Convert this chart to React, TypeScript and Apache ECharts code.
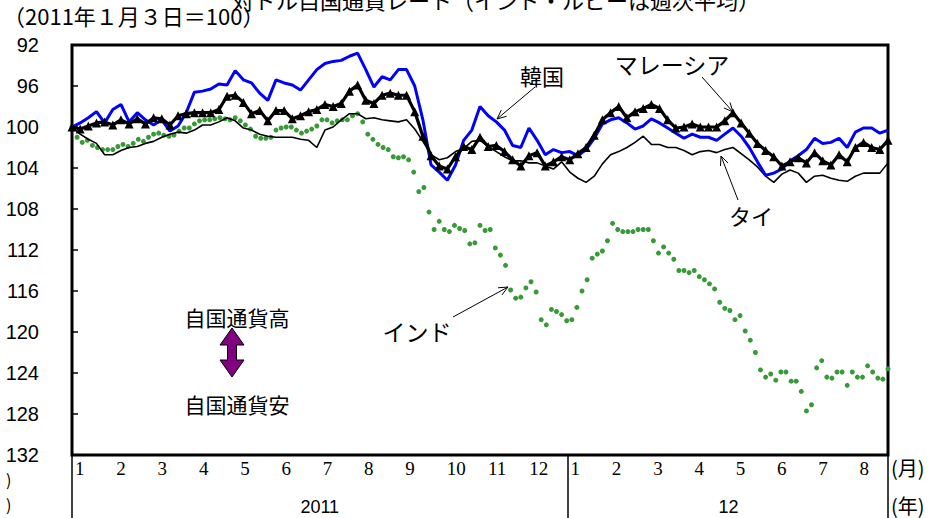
import React, { useEffect, useRef } from "react";
import * as echarts from "echarts";

// ---- data -------------------------------------------------------------
// x is measured in months from 2011-01-01; the last observation is late Aug 2012
const X_END = 19.76;
const MONTH_TICKS = [0, 1, 2, 3, 4, 5, 6, 7, 8, 9, 10, 11, 12, 13, 14, 15, 16, 17, 18, 19];
const MONTH_LABELS = ["1", "2", "3", "4", "5", "6", "7", "8", "9", "10", "11", "12", "1", "2", "3", "4", "5", "6", "7", "8"];
const YEAR_SEPARATORS = [0, 12, X_END];
const YEAR_POS = [6, 15.9];
const YEAR_LABELS = ["2011", "12"];

const Y_MIN = 92;
const Y_MAX = 132;
const Y_STEP = 4;

const korea = [
  100, 99.6, 99.1, 98.5, 99.6, 98.3, 97.8, 99.5, 98.6, 99.3,
  99.8, 99.3, 100.4, 99.9, 98.6, 96.6, 96.5, 96.3, 95.8, 95.9,
  94.5, 95.4, 95.7, 96.7, 97.4, 95.4, 95.7, 95.9, 96.4, 95.4,
  94.4, 93.8, 93.6, 93.5, 93.1, 92.8, 94.4, 96.1, 95.1, 95.4,
  94.4, 94.4, 96.0, 99.3, 103.7, 104.4, 105.2, 103.7, 101.3, 100.3,
  98.0, 98.9, 99.5, 100.3, 101.8, 102.0, 100.1, 101.3, 102.7, 102.2,
  102.5, 102.4, 102.8, 102.2, 101.1, 99.7, 99.3, 99.1, 99.6, 100.2,
  99.9, 99.2, 99.6, 100.1, 100.6, 101.1, 100.7, 101.0, 101.0, 101.3,
  100.7, 100.1, 100.9, 102.0, 103.4, 104.7, 104.5, 104.1, 103.3, 102.8,
  102.2, 101.1, 101.6, 101.5, 101.1, 102.0, 100.5, 100.1, 100.1, 100.6,
  100.3,
];

const malaysia = [
  100, 100.2, 99.9, 99.6, 99.5, 99.8, 99.3, 99.7, 99.2, 99.7,
  99.1, 99.2, 99.8, 98.9, 98.7, 98.6, 98.6, 98.6, 98.3, 97.0,
  96.9, 97.6, 98.7, 98.4, 99.4, 98.4, 98.4, 99.2, 98.9, 98.5,
  98.3, 97.8, 98.0, 97.7, 96.5, 95.9, 97.4, 97.7, 96.9, 96.7,
  96.9, 96.9, 98.5, 100.9, 102.8, 103.8, 104.1, 102.9, 101.9, 102.2,
  101.0, 101.9, 101.8, 102.4, 103.2, 103.8, 102.8, 102.5, 103.8, 103.4,
  102.9, 103.2, 102.6, 102.0, 100.8, 99.3, 98.6, 98.0, 99.1, 98.5,
  98.2, 97.8, 98.2, 99.3, 100.1, 100.0, 99.7, 100.0, 100.0, 100.0,
  99.4, 98.6, 99.6, 100.6, 101.6, 102.3, 102.9, 103.8, 103.4, 103.0,
  103.5, 102.5, 103.3, 103.7, 102.7, 103.4, 102.0, 101.5, 102.0, 102.2,
  101.3,
];

const thailand = [
  100, 100.7, 101.2, 101.6, 102.7, 102.7, 102.3, 102.0, 101.9, 101.6,
  101.4, 101.0, 100.7, 100.5, 100.6, 100.3, 99.8, 99.8, 99.5, 99.1,
  99.4, 100.1, 100.3, 100.7, 100.9, 101.0, 101.0, 101.0, 101.2, 101.3,
  102.0, 100.3, 100.0, 99.3, 98.7, 98.7, 99.2, 99.1, 99.3, 99.4,
  99.5, 99.3, 100.2, 101.4, 102.7, 103.2, 103.0, 102.4, 102.1, 101.4,
  101.3, 101.9, 102.4, 102.9, 103.3, 103.3, 103.5, 103.5, 103.8, 104.1,
  103.4, 104.4, 105.0, 105.4, 104.8, 103.6, 102.7, 102.4, 102.0, 101.5,
  100.9, 101.7, 101.7, 102.0, 102.0, 102.3, 102.7, 102.4, 102.3, 102.5,
  102.2, 102.0, 102.6, 103.2, 103.9, 104.8, 105.4, 104.6, 104.2, 104.5,
  105.4, 104.8, 104.7, 105.0, 105.2, 105.3, 104.8, 104.5, 104.5, 104.5,
  103.5,
];

const india = [
  100.0, 101.0, 101.5, 101.3, 101.8, 102.0, 102.2, 102.2, 102.2, 101.9,
  101.7, 101.9, 101.6, 101.2, 101.4, 101.0, 100.7, 100.6, 100.8, 100.9,
  100.8, 100.4, 100.1, 100.1, 99.7, 99.4, 99.3, 99.3, 99.2, 99.1,
  99.2, 99.3, 99.1, 99.4, 99.8, 100.2, 100.9, 101.1, 101.1, 101.0,
  100.3, 100.1, 100.0, 100.0, 100.3, 100.6, 100.4, 100.2, 99.9, 99.3,
  99.3, 99.6, 99.4, 99.3, 99.3, 98.9, 98.7, 99.5, 100.7, 101.2,
  101.7, 102.0, 102.2, 102.9, 103.0, 102.9, 103.2, 104.4, 106.3, 105.9,
  108.3, 110.0, 109.2, 110.0, 110.2, 109.6, 109.9, 110.1, 111.4, 111.3,
  109.6, 110.1, 110.0, 111.8, 112.5, 113.5, 115.9, 116.7, 116.6, 115.7,
  115.1, 116.1, 118.8, 119.3, 117.8, 118.0, 118.3, 118.9, 118.8, 117.6,
  116.0, 114.9, 112.8, 112.4, 112.1, 111.1, 109.4, 110.0, 110.2, 110.2,
  110.2, 110.0, 110.0, 110.0, 111.1, 112.3, 111.7, 112.3, 112.9, 114.0,
  114.0, 114.2, 114.0, 114.6, 114.9, 115.3, 115.8, 117.1, 117.7, 117.9,
  118.8, 118.4, 119.9, 120.8, 122.0, 123.7, 124.4, 124.1, 124.7, 123.9,
  123.9, 124.8, 124.8, 125.8, 127.7, 127.1, 123.5, 122.8, 124.4, 124.5,
  123.9, 123.9, 125.2, 123.9, 124.4, 124.4, 123.3, 123.9, 124.5, 124.6,
  123.6,
];

const TITLE = "対ドル自国通貨レート（インド・ルピーは週次平均）";
const SUBTITLE = "（2011年１月３日＝100）";

// ---- helpers ----------------------------------------------------------
const CJK = '"Noto Sans CJK JP", "Noto Sans", sans-serif';

function toPairs(arr: number[]) {
  const n = arr.length;
  return arr.map((v, i) => [(i * X_END) / (n - 1), v]);
}

function arrow(x1: number, y1: number, x2: number, y2: number, head = 10) {
  const a = Math.atan2(y2 - y1, x2 - x1);
  const s = 0.42;
  const p1 = [x2 - head * Math.cos(a - s), y2 - head * Math.sin(a - s)];
  const p2 = [x2 - head * Math.cos(a + s), y2 - head * Math.sin(a + s)];
  return [
    { type: "line", shape: { x1, y1, x2, y2 }, style: { stroke: "#000", lineWidth: 1 }, z: 100 },
    { type: "polyline", shape: { points: [p1, [x2, y2], p2] }, style: { stroke: "#000", fill: null, lineWidth: 1 }, z: 100 },
  ];
}

function label(text: string, x: number, y: number, size: number, align = "center") {
  return {
    type: "text",
    x,
    y,
    z: 100,
    style: { text, fill: "#000", fontSize: size, fontFamily: CJK, align, verticalAlign: "middle" },
  };
}

export default function App() {
  const ref = useRef<HTMLDivElement>(null);

  useEffect(() => {
    if (!ref.current) return;
    const chart = echarts.init(ref.current, null, { renderer: "svg" });

    const option: any = {
      animation: false,
      backgroundColor: "#fff",
      grid: {
        left: 72,
        right: 52,
        top: 45,
        bottom: 63,
        show: true,
        borderColor: "#000",
        borderWidth: 3,
        backgroundColor: "transparent",
      },
      xAxis: [
        {
          type: "value",
          min: 0,
          max: X_END,
          position: "bottom",
          axisLine: { show: false },
          splitLine: { show: false },
          axisTick: {
            show: true,
            customValues: YEAR_SEPARATORS,
            length: 64,
            lineStyle: { color: "#000", width: 1.5 },
          },
          axisLabel: {
            customValues: MONTH_TICKS,
            formatter: (v: number) => MONTH_LABELS[Math.round(v)] ?? "",
            align: "left",
            padding: [0, 0, 0, 3],
            margin: 4,
            color: "#000",
            fontSize: 19,
            fontFamily: '"Liberation Serif", "Times New Roman", serif',
          },
        },
        {
          type: "value",
          min: 0,
          max: X_END,
          position: "bottom",
          axisLine: { show: false },
          axisTick: { show: false },
          splitLine: { show: false },
          axisLabel: {
            customValues: YEAR_POS,
            formatter: (v: number) => YEAR_LABELS[YEAR_POS.indexOf(v)] ?? "",
            margin: 43,
            color: "#000",
            fontSize: 18,
            fontFamily: '"Liberation Sans", Arial, sans-serif',
          },
        },
      ],
      yAxis: {
        type: "value",
        inverse: true,
        min: Y_MIN,
        max: Y_MAX,
        interval: Y_STEP,
        axisLine: { show: false },
        splitLine: { show: false },
        axisTick: { show: true, inside: true, length: 6, lineStyle: { color: "#000", width: 1.5 } },
        axisLabel: {
          margin: 33,
          color: "#000",
          fontSize: 20,
          fontFamily: '"Liberation Sans", Arial, sans-serif',
        },
      },
      series: [
        {
          name: "インド",
          type: "line",
          data: toPairs(india),
          showSymbol: true,
          showAllSymbol: true,
          symbol: "circle",
          symbolSize: 5,
          itemStyle: { color: "#379a37" },
          lineStyle: { width: 0, opacity: 0 },
          z: 2,
        },
        {
          name: "タイ",
          type: "line",
          data: toPairs(thailand),
          showSymbol: false,
          lineStyle: { color: "#000", width: 1.6 },
          itemStyle: { color: "#000" },
          z: 3,
        },
        {
          name: "韓国",
          type: "line",
          data: toPairs(korea),
          showSymbol: false,
          lineStyle: { color: "#0000ff", width: 3 },
          itemStyle: { color: "#0000ff" },
          z: 4,
        },
        {
          name: "マレーシア",
          type: "line",
          data: toPairs(malaysia),
          showSymbol: true,
          showAllSymbol: true,
          symbol: "triangle",
          symbolSize: 9,
          lineStyle: { color: "#000", width: 3.2 },
          itemStyle: { color: "#000" },
          z: 5,
        },
      ],
      graphic: [
        {
          type: "text",
          x: 232,
          y: 10,
          style: { text: TITLE, fill: "#000", fontSize: 22, fontFamily: CJK, align: "left", verticalAlign: "bottom" },
        },
        {
          type: "text",
          x: 3,
          y: 15,
          style: { text: SUBTITLE, fill: "#000", fontSize: 22, fontFamily: CJK, align: "left", verticalAlign: "middle" },
        },
        label("韓国", 542, 75, 22),
        label("マレーシア", 672, 64, 23),
        label("タイ", 751, 215, 22),
        label("インド", 417, 331, 23),
        label("自国通貨高", 237, 317, 21),
        label("自国通貨安", 237, 404, 21),
        label("(月)", 891, 467, 20, "left"),
        label("(年)", 891, 505, 20, "left"),
        label(")", 6, 479, 16, "left"),
        label(")", 6, 504, 16, "left"),
        ...arrow(535, 87, 497, 119),
        ...arrow(702, 77, 733, 112),
        ...arrow(738, 200, 721, 156),
        ...arrow(453, 317, 508, 287),
        {
          type: "polygon",
          z: 100,
          shape: {
            points: [
              [232, 328], [244, 345], [236.5, 345], [236.5, 360], [244, 360],
              [232, 377], [220, 360], [227.5, 360], [227.5, 345], [220, 345],
            ],
          },
          style: { fill: "#800080", stroke: "#000", lineWidth: 1 },
        },
      ],
    };

    chart.setOption(option);
    return () => chart.dispose();
  }, []);

  return (
    <div
      ref={ref}
      style={{ position: "fixed", left: 0, top: 0, width: 940, height: 518, background: "#fff" }}
    />
  );
}
